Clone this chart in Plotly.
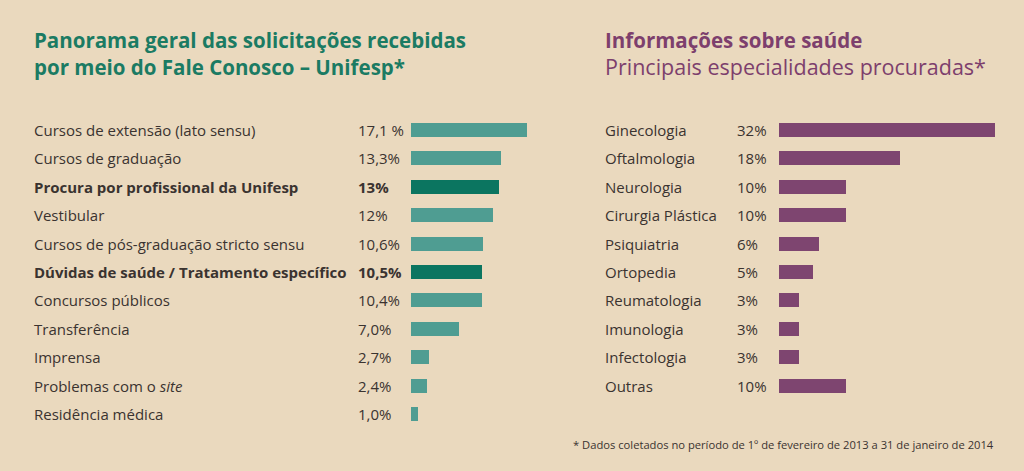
import plotly.graph_objects as go

# ---- data ----
left_labels = ["Cursos de extensão (lato sensu)", "Cursos de graduação",
               "<b>Procura por profissional da Unifesp</b>", "Vestibular",
               "Cursos de pós-graduação stricto sensu",
               "<b>Dúvidas de saúde / Tratamento específico</b>",
               "Concursos públicos", "Transferência", "Imprensa",
               "Problemas com o <i>site</i>", "Residência médica"]
left_values = [17.1, 13.3, 13, 12, 10.6, 10.5, 10.4, 7.0, 2.7, 2.4, 1.0]
left_texts = ["17,1 %", "13,3%", "<b>13%</b>", "12%", "10,6%", "<b>10,5%</b>",
              "10,4%", "7,0%", "2,7%", "2,4%", "1,0%"]
left_highlight = [False, False, True, False, False, True, False, False, False, False, False]

right_labels = ["Ginecologia", "Oftalmologia", "Neurologia", "Cirurgia Plástica",
                "Psiquiatria", "Ortopedia", "Reumatologia", "Imunologia",
                "Infectologia", "Outras"]
right_values = [32, 18, 10, 10, 6, 5, 3, 3, 3, 10]
right_texts = ["32%", "18%", "10%", "10%", "6%", "5%", "3%", "3%", "3%", "10%"]

BG = "#ead9be"
TEAL = "#4f9d92"
TEAL_DARK = "#0b7560"
PURPLE = "#7e4570"
GREEN_TITLE = "#1b7b63"
PURPLE_TITLE = "#7d3f6d"
TXT = "#3a3330"
FONT = "Open Sans"
FS = 15

W, H = 1024, 471
row0, step = 130.0, 28.4
y_lo = (H - row0) / step
y_hi = -row0 / step

fig = go.Figure()

fig.add_trace(go.Bar(
    x=left_values, y=list(range(len(left_values))), orientation="h",
    marker=dict(color=[TEAL_DARK if h else TEAL for h in left_highlight], line=dict(width=0)),
    width=0.49, xaxis="x", yaxis="y", hoverinfo="skip", showlegend=False))

fig.add_trace(go.Bar(
    x=right_values, y=list(range(len(right_values))), orientation="h",
    marker=dict(color=PURPLE, line=dict(width=0)),
    width=0.49, xaxis="x2", yaxis="y2", hoverinfo="skip", showlegend=False))

ann = []
for i, (lab, t) in enumerate(zip(left_labels, left_texts)):
    ann.append(dict(x=32 / W, y=i, xref="paper", yref="y", text=lab, showarrow=False,
                    xanchor="left", yanchor="middle", font=dict(family=FONT, size=FS, color=TXT)))
    ann.append(dict(x=356 / W, y=i, xref="paper", yref="y", text=t, showarrow=False,
                    xanchor="left", yanchor="middle", font=dict(family=FONT, size=FS, color=TXT)))
for i, (lab, t) in enumerate(zip(right_labels, right_texts)):
    ann.append(dict(x=603 / W, y=i, xref="paper", yref="y2", text=lab, showarrow=False,
                    xanchor="left", yanchor="middle", font=dict(family=FONT, size=FS, color=TXT)))
    ann.append(dict(x=735 / W, y=i, xref="paper", yref="y2", text=t, showarrow=False,
                    xanchor="left", yanchor="middle", font=dict(family=FONT, size=FS, color=TXT)))

# titles
ann += [
    dict(x=32 / W, y=1 - 40 / H, xref="paper", yref="paper", showarrow=False, xanchor="left", yanchor="middle",
         text="<b>Panorama geral das solicitações recebidas</b>", font=dict(family=FONT, size=20.5, color=GREEN_TITLE)),
    dict(x=32 / W, y=1 - 67 / H, xref="paper", yref="paper", showarrow=False, xanchor="left", yanchor="middle",
         text="<b>por meio do Fale Conosco – Unifesp*</b>", font=dict(family=FONT, size=20.5, color=GREEN_TITLE)),
    dict(x=603 / W, y=1 - 40 / H, xref="paper", yref="paper", showarrow=False, xanchor="left", yanchor="middle",
         text="<b>Informações sobre saúde</b>", font=dict(family=FONT, size=20.5, color=PURPLE_TITLE)),
    dict(x=603 / W, y=1 - 67 / H, xref="paper", yref="paper", showarrow=False, xanchor="left", yanchor="middle",
         text="Principais especialidades procuradas*", font=dict(family=FONT, size=21.5, color=PURPLE_TITLE)),
    dict(x=571 / W, y=1 - 444 / H, xref="paper", yref="paper", showarrow=False, xanchor="left", yanchor="middle",
         text="* Dados coletados no período de 1º de fevereiro de 2013 a 31 de janeiro de 2014",
         font=dict(family=FONT, size=11.2, color=TXT)),
]

lx0, lscale = 411.0, 6.8
rx0, rscale = 779.0, 6.74
fig.update_layout(
    width=W, height=H, margin=dict(l=0, r=0, t=0, b=0),
    paper_bgcolor=BG, plot_bgcolor=BG,
    xaxis=dict(domain=[lx0 / W, 545 / W], range=[0, (545 - lx0) / lscale], visible=False, fixedrange=True),
    yaxis=dict(domain=[0, 1], range=[y_lo, y_hi], visible=False, fixedrange=True),
    xaxis2=dict(domain=[rx0 / W, 1010 / W], range=[0, (1010 - rx0) / rscale], visible=False, fixedrange=True),
    yaxis2=dict(domain=[0, 1], range=[y_lo, y_hi], visible=False, fixedrange=True, anchor="x2"),
    annotations=ann, bargap=0,
)

fig.write_html("out.html", config={"displayModeBar": False},
               post_script="document.body.style.margin='0';")
